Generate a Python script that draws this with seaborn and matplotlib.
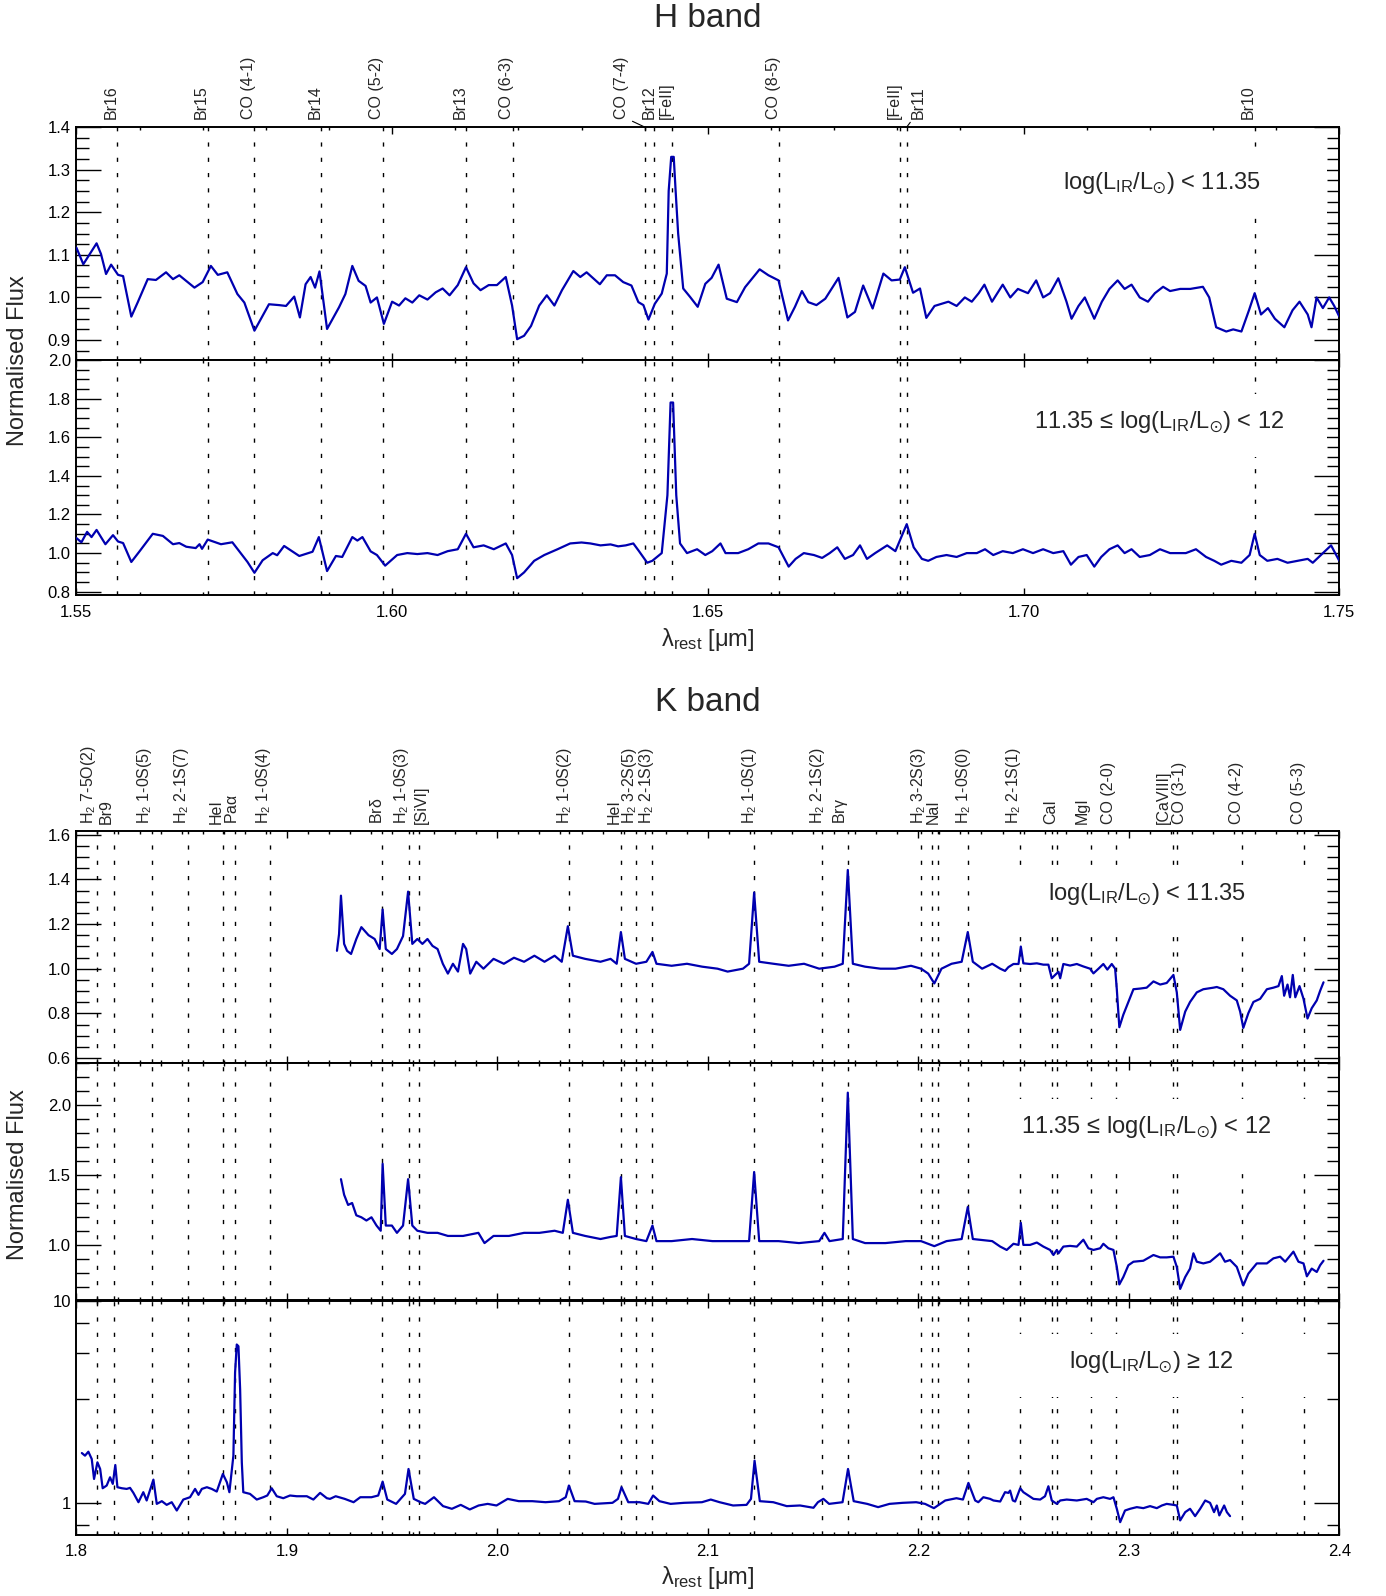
import numpy as np
import seaborn as sns
import matplotlib
matplotlib.use("Agg")
import matplotlib.pyplot as plt
from matplotlib.patches import Rectangle
from matplotlib.ticker import (MultipleLocator, FixedLocator, FormatStrFormatter,
                               FuncFormatter, NullFormatter)

# ---------------------------------------------------------------- data
# (wavelength [um], normalised flux)

H_LOW = [  # log(LIR/Lsun) < 11.35, H band
    (1.5500, 1.117), (1.5511, 1.078), (1.5532, 1.127), (1.5539, 1.102), (1.5547, 1.055),
    (1.5555, 1.077), (1.5566, 1.053), (1.5574, 1.050), (1.5587, 0.955), (1.5597, 0.988),
    (1.5613, 1.043), (1.5626, 1.041), (1.5642, 1.059), (1.5653, 1.043), (1.5663, 1.052),
    (1.5687, 1.023), (1.5700, 1.036), (1.5713, 1.074), (1.5724, 1.053), (1.5739, 1.059),
    (1.5755, 1.008), (1.5766, 0.988), (1.5782, 0.922), (1.5795, 0.957), (1.5805, 0.984),
    (1.5821, 0.982), (1.5832, 0.980), (1.5845, 1.002), (1.5854, 0.953), (1.5863, 1.031),
    (1.5871, 1.048), (1.5878, 1.023), (1.5885, 1.061), (1.5897, 0.926), (1.5916, 0.977),
    (1.5926, 1.008), (1.5937, 1.074), (1.5947, 1.039), (1.5958, 1.027), (1.5966, 0.988),
    (1.5976, 1.000), (1.5987, 0.938), (1.6000, 0.990), (1.6011, 0.981), (1.6021, 0.998),
    (1.6032, 0.988), (1.6043, 1.005), (1.6056, 0.995), (1.6069, 1.012), (1.6080, 1.021),
    (1.6091, 1.005), (1.6104, 1.029), (1.6117, 1.071), (1.6129, 1.033), (1.6140, 1.017),
    (1.6153, 1.029), (1.6166, 1.029), (1.6180, 1.048), (1.6190, 0.981), (1.6198, 0.902),
    (1.6209, 0.910), (1.6220, 0.933), (1.6233, 0.981), (1.6245, 1.005), (1.6257, 0.981),
    (1.6269, 1.017), (1.6287, 1.062), (1.6298, 1.048), (1.6308, 1.059), (1.6329, 1.031),
    (1.6340, 1.052), (1.6353, 1.052), (1.6366, 1.036), (1.6379, 1.028), (1.6390, 0.989),
    (1.6398, 0.982), (1.6406, 0.948), (1.6416, 0.985), (1.6427, 1.009), (1.6435, 1.056),
    (1.6438, 1.250), (1.6442, 1.330), (1.6446, 1.330), (1.6449, 1.250), (1.6453, 1.150),
    (1.6461, 1.021), (1.6472, 1.001), (1.6484, 0.978), (1.6496, 1.032), (1.6506, 1.046),
    (1.6517, 1.077), (1.6530, 0.997), (1.6546, 0.989), (1.6559, 1.024), (1.6582, 1.066),
    (1.6596, 1.052), (1.6612, 1.040), (1.6627, 0.946), (1.6638, 0.978), (1.6649, 1.015),
    (1.6659, 0.989), (1.6672, 0.982), (1.6686, 0.997), (1.6707, 1.046), (1.6721, 0.953),
    (1.6733, 0.966), (1.6746, 1.028), (1.6761, 0.974), (1.6778, 1.056), (1.6791, 1.040),
    (1.6804, 1.042), (1.6812, 1.071), (1.6825, 1.011), (1.6836, 1.021), (1.6846, 0.952),
    (1.6859, 0.980), (1.6870, 0.985), (1.6881, 0.990), (1.6894, 0.980), (1.6907, 1.000),
    (1.6918, 0.990), (1.6929, 1.010), (1.6938, 1.030), (1.6950, 0.990), (1.6967, 1.030),
    (1.6979, 1.000), (1.6991, 1.020), (1.7007, 1.010), (1.7020, 1.040), (1.7031, 1.000),
    (1.7042, 1.010), (1.7055, 1.045), (1.7068, 0.990), (1.7076, 0.950), (1.7087, 0.980),
    (1.7097, 1.000), (1.7112, 0.950), (1.7124, 0.990), (1.7136, 1.020), (1.7149, 1.040),
    (1.7160, 1.020), (1.7171, 1.030), (1.7184, 1.000), (1.7197, 0.990), (1.7208, 1.010),
    (1.7221, 1.025), (1.7232, 1.015), (1.7248, 1.020), (1.7264, 1.020), (1.7284, 1.025),
    (1.7294, 1.000), (1.7305, 0.930), (1.7321, 0.920), (1.7332, 0.925), (1.7345, 0.920),
    (1.7357, 0.970), (1.7366, 1.010), (1.7376, 0.960), (1.7387, 0.975), (1.7398, 0.950),
    (1.7413, 0.930), (1.7426, 0.970), (1.7437, 0.990), (1.7450, 0.960), (1.7456, 0.930),
    (1.7464, 1.000), (1.7474, 0.975), (1.7484, 1.000), (1.7492, 0.980), (1.7500, 0.955),
]

H_MID = [  # 11.35 <= log(LIR/Lsun) < 12, H band
    (1.5500, 1.078), (1.5508, 1.056), (1.5517, 1.110), (1.5524, 1.083), (1.5532, 1.120),
    (1.5546, 1.046), (1.5558, 1.093), (1.5566, 1.060), (1.5574, 1.052), (1.5587, 0.954),
    (1.5600, 1.009), (1.5621, 1.100), (1.5637, 1.089), (1.5653, 1.046), (1.5663, 1.052),
    (1.5674, 1.033), (1.5689, 1.026), (1.5695, 1.046), (1.5699, 1.022), (1.5708, 1.070),
    (1.5729, 1.046), (1.5747, 1.056), (1.5761, 0.996), (1.5771, 0.954), (1.5782, 0.898),
    (1.5795, 0.963), (1.5811, 1.000), (1.5818, 0.989), (1.5829, 1.037), (1.5842, 1.009),
    (1.5853, 0.985), (1.5874, 1.007), (1.5884, 1.083), (1.5897, 0.907), (1.5911, 0.985),
    (1.5921, 0.980), (1.5937, 1.083), (1.5945, 1.065), (1.5953, 1.083), (1.5966, 1.009),
    (1.5976, 0.990), (1.5989, 0.935), (1.6008, 0.990), (1.6024, 1.000), (1.6040, 0.995),
    (1.6056, 1.000), (1.6072, 0.990), (1.6088, 1.010), (1.6104, 1.020), (1.6117, 1.100),
    (1.6129, 1.030), (1.6145, 1.040), (1.6161, 1.020), (1.6180, 1.050), (1.6190, 0.990),
    (1.6198, 0.870), (1.6209, 0.900), (1.6225, 0.960), (1.6241, 0.990), (1.6262, 1.020),
    (1.6282, 1.050), (1.6300, 1.055), (1.6314, 1.050), (1.6330, 1.040), (1.6346, 1.045),
    (1.6358, 1.035), (1.6370, 1.040), (1.6382, 1.050), (1.6391, 1.010), (1.6404, 0.950),
    (1.6412, 0.960), (1.6427, 1.000), (1.6436, 1.300), (1.6441, 1.780), (1.6445, 1.780),
    (1.6450, 1.300), (1.6456, 1.050), (1.6467, 1.000), (1.6483, 1.020), (1.6496, 0.990),
    (1.6507, 1.010), (1.6520, 1.050), (1.6528, 1.000), (1.6548, 1.000), (1.6564, 1.020),
    (1.6580, 1.050), (1.6596, 1.050), (1.6612, 1.030), (1.6628, 0.930), (1.6639, 0.970),
    (1.6652, 1.000), (1.6668, 0.990), (1.6681, 0.975), (1.6693, 1.000), (1.6705, 1.030),
    (1.6717, 0.970), (1.6730, 0.990), (1.6741, 1.040), (1.6752, 0.970), (1.6765, 1.000),
    (1.6784, 1.040), (1.6797, 1.010), (1.6815, 1.150), (1.6826, 1.030), (1.6839, 0.970),
    (1.6849, 0.960), (1.6862, 0.980), (1.6878, 0.990), (1.6894, 0.980), (1.6910, 1.000),
    (1.6926, 1.000), (1.6939, 1.020), (1.6952, 0.990), (1.6967, 1.010), (1.6983, 1.000),
    (1.6999, 1.020), (1.7015, 1.000), (1.7031, 1.020), (1.7047, 1.000), (1.7063, 1.010),
    (1.7075, 0.940), (1.7087, 0.980), (1.7100, 0.990), (1.7112, 0.930), (1.7123, 0.980),
    (1.7136, 1.020), (1.7149, 1.040), (1.7160, 1.000), (1.7171, 1.020), (1.7184, 0.980),
    (1.7200, 0.990), (1.7216, 1.020), (1.7232, 1.000), (1.7257, 1.000), (1.7273, 1.020),
    (1.7289, 0.980), (1.7302, 0.960), (1.7313, 0.940), (1.7329, 0.960), (1.7345, 0.950),
    (1.7358, 0.990), (1.7366, 1.100), (1.7374, 0.990), (1.7386, 0.960), (1.7402, 0.970),
    (1.7418, 0.950), (1.7434, 0.960), (1.7450, 0.970), (1.7458, 0.950), (1.7474, 1.000),
    (1.7487, 1.040), (1.7500, 0.960),
]

K_LOW = [  # log(LIR/Lsun) < 11.35, K band
    (1.9238, 1.080), (1.9248, 1.155), (1.9257, 1.327), (1.9272, 1.111), (1.9286, 1.080),
    (1.9305, 1.066), (1.9330, 1.133), (1.9354, 1.186), (1.9388, 1.150), (1.9417, 1.133),
    (1.9441, 1.088), (1.9455, 1.265), (1.9470, 1.088), (1.9499, 1.066), (1.9523, 1.088),
    (1.9552, 1.146), (1.9576, 1.345), (1.9596, 1.111), (1.9620, 1.133), (1.9644, 1.111),
    (1.9668, 1.133), (1.9692, 1.102), (1.9716, 1.088), (1.9741, 1.022), (1.9765, 0.978),
    (1.9789, 1.022), (1.9813, 0.987), (1.9837, 1.111), (1.9852, 1.088), (1.9871, 0.978),
    (1.9900, 1.031), (1.9934, 1.000), (1.9982, 1.044), (2.0031, 1.022), (2.0079, 1.049),
    (2.0127, 1.031), (2.0176, 1.058), (2.0224, 1.031), (2.0272, 1.058), (2.0306, 1.031),
    (2.0335, 1.190), (2.0359, 1.058), (2.0417, 1.044), (2.0490, 1.031), (2.0538, 1.044),
    (2.0567, 1.022), (2.0587, 1.164), (2.0606, 1.044), (2.0659, 1.022), (2.0708, 1.031),
    (2.0737, 1.075), (2.0756, 1.022), (2.0828, 1.013), (2.0901, 1.022), (2.0973, 1.009),
    (2.1046, 1.000), (2.1094, 0.987), (2.1167, 1.000), (2.1196, 1.022), (2.1220, 1.341),
    (2.1244, 1.031), (2.1312, 1.022), (2.1384, 1.013), (2.1457, 1.022), (2.1529, 1.000),
    (2.1602, 1.009), (2.1641, 1.022), (2.1665, 1.442), (2.1689, 1.022), (2.1747, 1.009),
    (2.1820, 1.000), (2.1892, 1.000), (2.1965, 1.013), (2.2013, 1.000), (2.2047, 0.978),
    (2.2076, 0.934), (2.2110, 1.000), (2.2158, 1.022), (2.2206, 1.031), (2.2235, 1.164),
    (2.2259, 1.031), (2.2303, 1.000), (2.2351, 1.022), (2.2389, 1.000), (2.2412, 0.990),
    (2.2428, 1.007), (2.2452, 1.021), (2.2476, 1.021), (2.2487, 1.099), (2.2499, 1.024),
    (2.2531, 1.021), (2.2563, 1.024), (2.2594, 1.018), (2.2618, 1.018), (2.2634, 0.957),
    (2.2650, 0.972), (2.2666, 0.986), (2.2674, 0.957), (2.2689, 1.021), (2.2721, 1.014),
    (2.2753, 1.021), (2.2784, 1.010), (2.2816, 1.000), (2.2832, 0.979), (2.2856, 1.000),
    (2.2879, 1.021), (2.2898, 0.996), (2.2919, 1.021), (2.2935, 1.000), (2.2943, 0.908),
    (2.2955, 0.738), (2.2974, 0.794), (2.2998, 0.851), (2.3022, 0.908), (2.3054, 0.911),
    (2.3085, 0.915), (2.3117, 0.943), (2.3149, 0.929), (2.3180, 0.936), (2.3212, 0.972),
    (2.3228, 0.894), (2.3244, 0.726), (2.3268, 0.808), (2.3291, 0.851), (2.3323, 0.894),
    (2.3354, 0.908), (2.3402, 0.915), (2.3418, 0.918), (2.3449, 0.908), (2.3481, 0.879),
    (2.3513, 0.858), (2.3529, 0.808), (2.3544, 0.735), (2.3568, 0.801), (2.3592, 0.851),
    (2.3624, 0.865), (2.3656, 0.908), (2.3687, 0.915), (2.3711, 0.922), (2.3727, 0.967),
    (2.3738, 0.879), (2.3754, 0.929), (2.3766, 0.872), (2.3779, 0.972), (2.3791, 0.872),
    (2.3811, 0.922), (2.3830, 0.865), (2.3849, 0.777), (2.3869, 0.823), (2.3893, 0.858),
    (2.3909, 0.901), (2.3925, 0.939),
]

K_MID = [  # 11.35 <= log(LIR/Lsun) < 12, K band
    (1.9257, 1.471), (1.9272, 1.360), (1.9291, 1.287), (1.9310, 1.301), (1.9330, 1.213),
    (1.9354, 1.199), (1.9378, 1.176), (1.9402, 1.199), (1.9426, 1.140), (1.9446, 1.103),
    (1.9455, 1.581), (1.9470, 1.140), (1.9499, 1.140), (1.9523, 1.088), (1.9552, 1.140),
    (1.9576, 1.471), (1.9596, 1.140), (1.9620, 1.103), (1.9668, 1.088), (1.9716, 1.088),
    (1.9765, 1.066), (1.9837, 1.066), (1.9910, 1.088), (1.9939, 1.015), (1.9982, 1.066),
    (2.0055, 1.066), (2.0127, 1.088), (2.0200, 1.088), (2.0272, 1.103), (2.0311, 1.088),
    (2.0335, 1.324), (2.0359, 1.088), (2.0417, 1.066), (2.0490, 1.044), (2.0538, 1.059),
    (2.0567, 1.066), (2.0587, 1.485), (2.0606, 1.066), (2.0659, 1.044), (2.0708, 1.029),
    (2.0737, 1.140), (2.0756, 1.029), (2.0828, 1.029), (2.0925, 1.044), (2.1022, 1.029),
    (2.1118, 1.029), (2.1196, 1.029), (2.1220, 1.522), (2.1244, 1.029), (2.1336, 1.029),
    (2.1433, 1.015), (2.1529, 1.029), (2.1554, 1.088), (2.1578, 1.029), (2.1641, 1.044),
    (2.1665, 2.088), (2.1689, 1.044), (2.1747, 1.015), (2.1844, 1.015), (2.1940, 1.029),
    (2.2013, 1.029), (2.2076, 0.993), (2.2134, 1.029), (2.2206, 1.044), (2.2235, 1.272),
    (2.2259, 1.044), (2.2351, 1.029), (2.2389, 0.990), (2.2420, 0.966), (2.2452, 1.010),
    (2.2476, 1.002), (2.2487, 1.159), (2.2499, 1.002), (2.2531, 1.002), (2.2563, 1.019),
    (2.2594, 0.990), (2.2626, 0.966), (2.2642, 0.930), (2.2658, 0.966), (2.2666, 0.942),
    (2.2689, 0.990), (2.2721, 0.995), (2.2753, 0.990), (2.2784, 1.039), (2.2808, 0.978),
    (2.2832, 0.966), (2.2864, 0.978), (2.2879, 1.010), (2.2903, 0.978), (2.2927, 0.966),
    (2.2943, 0.845), (2.2955, 0.720), (2.2974, 0.773), (2.2998, 0.857), (2.3022, 0.882),
    (2.3069, 0.889), (2.3117, 0.930), (2.3149, 0.913), (2.3180, 0.913), (2.3212, 0.918),
    (2.3228, 0.845), (2.3244, 0.688), (2.3268, 0.773), (2.3291, 0.833), (2.3307, 0.942),
    (2.3323, 0.882), (2.3354, 0.870), (2.3386, 0.882), (2.3434, 0.942), (2.3457, 0.882),
    (2.3481, 0.894), (2.3513, 0.845), (2.3544, 0.713), (2.3568, 0.797), (2.3608, 0.870),
    (2.3656, 0.870), (2.3687, 0.906), (2.3719, 0.918), (2.3743, 0.882), (2.3782, 0.954),
    (2.3806, 0.882), (2.3830, 0.870), (2.3846, 0.778), (2.3869, 0.833), (2.3893, 0.809),
    (2.3909, 0.857), (2.3925, 0.889),
]

K_HIGH = [  # log(LIR/Lsun) >= 12, K band (log axis)
    (1.8026, 1.768), (1.8041, 1.716), (1.8057, 1.795), (1.8073, 1.652), (1.8084, 1.317),
    (1.8100, 1.591), (1.8113, 1.475), (1.8125, 1.185), (1.8144, 1.222), (1.8160, 1.342),
    (1.8173, 1.245), (1.8185, 1.543), (1.8195, 1.199), (1.8216, 1.185), (1.8239, 1.176),
    (1.8255, 1.190), (1.8271, 1.124), (1.8295, 1.011), (1.8318, 1.133), (1.8334, 1.031),
    (1.8366, 1.307), (1.8382, 0.992), (1.8406, 1.023), (1.8429, 0.981), (1.8453, 1.011),
    (1.8477, 0.920), (1.8508, 1.042), (1.8540, 1.070), (1.8564, 1.176), (1.8580, 1.099),
    (1.8596, 1.176), (1.8620, 1.199), (1.8643, 1.176), (1.8667, 1.141), (1.8696, 1.394),
    (1.8715, 1.268), (1.8727, 1.133), (1.8746, 1.716), (1.8754, 4.410), (1.8762, 6.070),
    (1.8770, 5.950), (1.8778, 3.650), (1.8786, 1.590), (1.8793, 1.133), (1.8825, 1.111),
    (1.8857, 1.042), (1.8888, 1.070), (1.8907, 1.091), (1.8928, 1.185), (1.8952, 1.082),
    (1.8983, 1.058), (1.9015, 1.091), (1.9047, 1.082), (1.9095, 1.082), (1.9126, 1.042),
    (1.9158, 1.124), (1.9190, 1.058), (1.9205, 1.050), (1.9232, 1.082), (1.9275, 1.050),
    (1.9317, 1.011), (1.9349, 1.070), (1.9402, 1.070), (1.9434, 1.091), (1.9455, 1.278),
    (1.9477, 1.042), (1.9519, 0.992), (1.9561, 1.111), (1.9578, 1.475), (1.9603, 1.050),
    (1.9635, 1.011), (1.9657, 0.992), (1.9699, 1.070), (1.9742, 0.967), (1.9784, 0.938),
    (1.9826, 0.981), (1.9869, 0.931), (1.9911, 0.974), (1.9954, 0.992), (1.9996, 0.974),
    (2.0049, 1.050), (2.0102, 1.023), (2.0166, 1.023), (2.0229, 1.011), (2.0293, 1.023),
    (2.0325, 1.070), (2.0340, 1.222), (2.0367, 1.023), (2.0420, 1.019), (2.0462, 0.992),
    (2.0547, 1.004), (2.0573, 1.050), (2.0590, 1.199), (2.0622, 1.011), (2.0675, 1.011),
    (2.0717, 0.992), (2.0740, 1.091), (2.0770, 1.023), (2.0823, 0.992), (2.0887, 1.004),
    (2.0972, 1.011), (2.1014, 1.042), (2.1056, 1.011), (2.1120, 0.974), (2.1184, 0.981),
    (2.1205, 1.050), (2.1222, 1.621), (2.1247, 1.023), (2.1311, 1.011), (2.1375, 0.967),
    (2.1438, 0.974), (2.1502, 0.949), (2.1523, 1.011), (2.1549, 1.050), (2.1576, 0.992),
    (2.1640, 1.011), (2.1666, 1.475), (2.1693, 1.023), (2.1757, 0.992), (2.1809, 0.956),
    (2.1863, 0.992), (2.1926, 1.004), (2.1990, 1.011), (2.2032, 0.992), (2.2074, 0.945),
    (2.2128, 1.031), (2.2181, 1.058), (2.2212, 1.042), (2.2238, 1.259), (2.2270, 1.031),
    (2.2285, 1.011), (2.2309, 1.070), (2.2341, 1.050), (2.2357, 1.031), (2.2389, 1.019),
    (2.2412, 1.133), (2.2428, 1.124), (2.2436, 1.154), (2.2449, 1.031), (2.2460, 1.019),
    (2.2484, 1.185), (2.2499, 1.133), (2.2523, 1.091), (2.2547, 1.050), (2.2579, 1.042),
    (2.2602, 1.082), (2.2618, 1.212), (2.2634, 1.031), (2.2658, 0.992), (2.2674, 1.031),
    (2.2705, 1.042), (2.2753, 1.031), (2.2800, 1.050), (2.2832, 1.011), (2.2848, 1.050),
    (2.2879, 1.070), (2.2911, 1.050), (2.2927, 1.070), (2.2943, 0.938), (2.2959, 0.806),
    (2.2982, 0.920), (2.3006, 0.938), (2.3038, 0.956), (2.3069, 0.945), (2.3101, 0.967),
    (2.3133, 0.945), (2.3157, 0.974), (2.3180, 0.992), (2.3212, 0.981), (2.3228, 0.974),
    (2.3244, 0.822), (2.3268, 0.903), (2.3291, 0.938), (2.3315, 0.863), (2.3339, 0.938),
    (2.3363, 1.031), (2.3386, 1.004), (2.3405, 0.903), (2.3418, 0.974), (2.3430, 0.870),
    (2.3453, 0.974), (2.3466, 0.903), (2.3481, 0.863),
]

# emission / absorption features marked by dashed lines
H_LINES = [1.5564, 1.5708, 1.5782, 1.5888, 1.5985, 1.6117, 1.6191, 1.6400, 1.6415,
           1.6444, 1.6613, 1.6804, 1.6815, 1.7366]
H_LABELS = ['Br16', 'Br15', 'CO (4-1)', 'Br14', 'CO (5-2)', 'Br13', 'CO (6-3)',
            'CO (7-4)', 'Br12', '[FeII]', 'CO (8-5)', '[FeII]', 'Br11', 'Br10']
H_SHIFT = [-6, -6, -6, -6, -6, -6, -6, -23, -5, -6, -6, -5, 12, -6]  # label offsets, px

K_LINES = [1.8097, 1.8181, 1.8358, 1.8529, 1.8698, 1.8754, 1.8920, 1.9454, 1.9578,
           1.9627, 2.0340, 2.0589, 2.0660, 2.0737, 2.1221, 2.1544, 2.1666, 2.2015,
           2.2066, 2.2092, 2.2235, 2.2484, 2.2637, 2.2658, 2.2819, 2.2941, 2.3210,
           2.3228, 2.3540, 2.3834]
K_LABELS = ['H$_2$ 7-5O(2)', 'Br9', 'H$_2$ 1-0S(5)', 'H$_2$ 2-1S(7)', 'HeI', r'Pa$\alpha$',
            'H$_2$ 1-0S(4)', r'Br$\delta$', 'H$_2$ 1-0S(3)', '[SiVI]', 'H$_2$ 1-0S(2)',
            'HeI', 'H$_2$ 3-2S(5)', 'H$_2$ 2-1S(3)', 'H$_2$ 1-0S(1)', 'H$_2$ 2-1S(2)',
            r'Br$\gamma$', 'H$_2$ 3-2S(3)', 'NaI', 'H$_2$ 1-0S(0)', 'H$_2$ 2-1S(1)',
            'CaI', 'MgI', 'CO (2-0)', '[CaVIII]', 'CO (3-1)', 'CO (4-2)', 'CO (5-3)']
K_LABEL_AT = [1.8097, 1.8181, 1.8358, 1.8529, 1.8698, 1.8754, 1.8920, 1.9454, 1.9578,
              1.9627, 2.0340, 2.0589, 2.0660, 2.0737, 2.1221, 2.1544, 2.1666, 2.2015,
              2.2079, 2.2235, 2.2484, 2.2648, 2.2819, 2.2941, 2.3210, 2.3228, 2.3540, 2.3834]
K_SHIFT = [-8, -8, -7, -6, -7, -3, -7, -5, -7, 3, -4, -7, -7, -6, -5, -5, -8, -3,
           -2, -4, -7, -4, -8, -8, -10, 3, -6, -6]

LUM_LOW = r'log(L$_{\rm IR}$/L$_{\odot}$) < 11.35'
LUM_MID = r'11.35 ≤ log(L$_{\rm IR}$/L$_{\odot}$) < 12'
LUM_HIGH = r'log(L$_{\rm IR}$/L$_{\odot}$) ≥ 12'

BLUE = '#0000b0'

# ---------------------------------------------------------------- style
sns.set_style("ticks")
plt.rcParams['font.family'] = ['Liberation Sans', 'DejaVu Sans']
plt.rcParams['mathtext.fontset'] = 'custom'
plt.rcParams['mathtext.rm'] = 'Liberation Sans'
plt.rcParams['mathtext.it'] = 'Liberation Sans:italic'
plt.rcParams['mathtext.bf'] = 'Liberation Sans:bold'
plt.rcParams['mathtext.default'] = 'regular'


def style_panel(ax, xlim, xmajor, xfmt, show_x):
    ax.set_xlim(xlim)
    ax.xaxis.set_major_locator(MultipleLocator(xmajor))
    ax.xaxis.set_minor_locator(MultipleLocator(0.01))
    ax.xaxis.set_major_formatter(FormatStrFormatter(xfmt))
    ax.tick_params(axis='both', which='both', direction='in', top=True, bottom=True,
                   left=True, right=True, labelsize=12, colors='black', width=1)
    ax.tick_params(axis='x', which='major', length=5, pad=7, labelbottom=show_x)
    ax.tick_params(axis='x', which='minor', length=2.5)
    ax.tick_params(axis='y', which='major', length=18, pad=4)
    ax.tick_params(axis='y', which='minor', length=9)
    for sp in ax.spines.values():
        sp.set_linewidth(1.4)
        sp.set_color('black')
    ax.set_xlabel('')
    ax.set_ylabel('')


def lin_y(ax, lo, hi, major, minor):
    ax.set_ylim(lo, hi)
    ax.yaxis.set_major_locator(MultipleLocator(major))
    ax.yaxis.set_minor_locator(MultipleLocator(minor))
    ax.yaxis.set_major_formatter(FormatStrFormatter('%.1f'))


def draw_spectrum(ax, spec, lines):
    for lam in lines:
        ax.axvline(lam, color='black', lw=1.0, ls=(0, (3, 8)), zorder=1)
    w, f = np.array(spec).T
    sns.lineplot(x=w, y=f, ax=ax, color=BLUE, linewidth=1.6, sort=False,
                 estimator=None, zorder=3)


def lum_note(ax, x, y, txt):
    # the dashed markers are blanked out behind the class label
    ax.add_patch(Rectangle((0.725, y - 0.15), 0.265, 0.27, transform=ax.transAxes,
                           facecolor='white', edgecolor='none', zorder=2))
    ax.text(x, y, txt, transform=ax.transAxes, ha='center', va='center',
            fontsize=17, zorder=4)


fig = plt.figure(figsize=(13.86, 15.96), dpi=100)
L, W = 0.0551, 0.9112

# ---------------------------------------------------------------- H band
ax_h1 = fig.add_axes([L, 0.7744, W, 0.1460])
ax_h2 = fig.add_axes([L, 0.6272, W, 0.1472])

draw_spectrum(ax_h1, H_LOW, H_LINES)
draw_spectrum(ax_h2, H_MID, H_LINES)
for ax, show in ((ax_h1, False), (ax_h2, True)):
    style_panel(ax, (1.55, 1.75), 0.05, '%.2f', show)
lin_y(ax_h1, 0.853, 1.40, 0.1, 0.025)
lin_y(ax_h2, 0.783, 2.0, 0.2, 0.05)

# offset labels get a small leader line, as in the original
for txt, lam, dx in zip(H_LABELS, H_LINES, H_SHIFT):
    kw = {}
    if dx in (-23, 12):
        kw['arrowprops'] = dict(arrowstyle='-', lw=0.8, color='black', shrinkA=0,
                                shrinkB=0, relpos=(0.9, 0.0) if dx < 0 else (0.1, 0.0))
    ax_h1.annotate(txt, xy=(lam, 1.0), xycoords=('data', 'axes fraction'),
                   xytext=(dx, 8), textcoords='offset pixels', rotation=90,
                   ha='center', va='bottom', fontsize=11.5, annotation_clip=False, **kw)

lum_note(ax_h1, 0.860, 0.76, LUM_LOW)
lum_note(ax_h2, 0.857, 0.736, LUM_MID)

fig.text(0.5106, 0.9885, 'H band', ha='center', va='center', fontsize=24)
fig.text(0.5106, 0.5996, r'$\lambda_{\rm rest}$ [$\mu$m]', ha='center', va='center',
         fontsize=17)
fig.text(0.0132, 0.774, 'Normalised Flux', rotation=90, ha='center', va='center',
         fontsize=17)

# ---------------------------------------------------------------- K band
ax_k1 = fig.add_axes([L, 0.3340, W, 0.1454])
ax_k2 = fig.add_axes([L, 0.1852, W, 0.1488])
ax_k3 = fig.add_axes([L, 0.0385, W, 0.1466])

ax_k3.set_yscale('log')
draw_spectrum(ax_k1, K_LOW, K_LINES)
draw_spectrum(ax_k2, K_MID, K_LINES)
draw_spectrum(ax_k3, K_HIGH, K_LINES)
for ax, show in ((ax_k1, False), (ax_k2, False), (ax_k3, True)):
    style_panel(ax, (1.8, 2.4), 0.1, '%.1f', show)
lin_y(ax_k1, 0.578, 1.617, 0.2, 0.05)
lin_y(ax_k2, 0.606, 2.30, 0.5, 0.1)
ax_k3.set_ylim(0.70, 10.0)
ax_k3.yaxis.set_major_locator(FixedLocator([1, 10]))
ax_k3.yaxis.set_major_formatter(FuncFormatter(lambda v, p: f'{v:g}'))
ax_k3.yaxis.set_minor_locator(FixedLocator([0.78, 3.26, 5.53, 7.77]))
ax_k3.yaxis.set_minor_formatter(NullFormatter())

for txt, lam, dx in zip(K_LABELS, K_LABEL_AT, K_SHIFT):
    ax_k1.annotate(txt, xy=(lam, 1.0), xycoords=('data', 'axes fraction'),
                   xytext=(dx, 7), textcoords='offset pixels', rotation=90,
                   ha='center', va='bottom', fontsize=11.5, annotation_clip=False)

lum_note(ax_k1, 0.848, 0.726, LUM_LOW)
lum_note(ax_k2, 0.847, 0.728, LUM_MID)
lum_note(ax_k3, 0.851, 0.739, LUM_HIGH)

fig.text(0.5106, 0.560, 'K band', ha='center', va='center', fontsize=24)
fig.text(0.5106, 0.0119, r'$\lambda_{\rm rest}$ [$\mu$m]', ha='center', va='center',
         fontsize=17)
fig.text(0.0132, 0.264, 'Normalised Flux', rotation=90, ha='center', va='center',
         fontsize=17)

fig.savefig('out.png', dpi=100)
